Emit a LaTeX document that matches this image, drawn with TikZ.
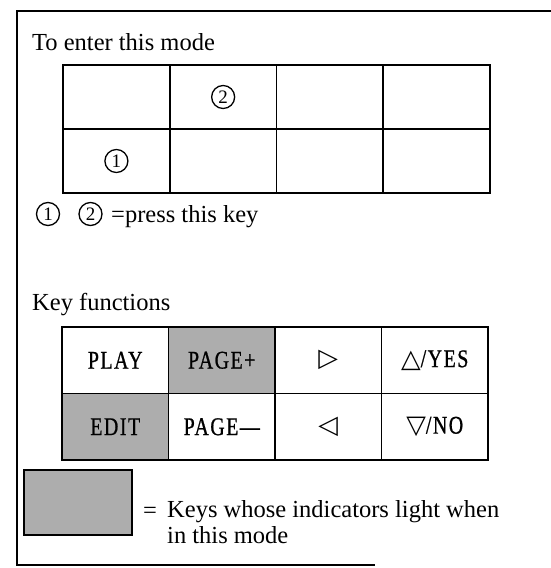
\documentclass[tikz,border=0pt]{standalone}
\usepackage{fontspec}
\setmainfont{Liberation Serif}
\newfontfamily\symfont{DejaVu Sans}
\newfontfamily\keyfont[FakeStretch=0.78,FakeBold=0.8,LetterSpace=6]{Liberation Serif}
\usetikzlibrary{calc,positioning}

\tikzset{
	modecell/.style={draw, line width=1.8pt, outer sep=0pt, inner sep=0pt, minimum width=106.75pt, minimum height=64pt},
	keycell/.style={draw, line width=1.8pt, outer sep=0pt, inner sep=0pt, minimum width=106.5pt, minimum height=66.5pt, font=\fontsize{25.5}{30}\selectfont\keyfont},
	lit/.style={fill=black!32},
	caption/.style={anchor=base west, inner sep=0pt, font=\fontsize{24.5}{26}\selectfont},
	circnum/.style={circle, draw, line width=1.3pt, inner sep=0pt, minimum size=23pt, font=\fontsize{19}{19}\selectfont},
}

\begin{document}
\begin{tikzpicture}[x=1pt,y=-1pt]
					\useasboundingbox (0,0) rectangle (551,568);
					\coordinate (origin) at (0, 0);
					% frame
					\draw [line width=1.8pt] ($(origin) + (551, 11)$) -- ($(origin) + (17, 11)$) -- ($(origin) + (17, 565)$) -- ($(origin) + (375, 565)$);

					% to enter this mode
					\node [caption] (entertitle) at ($(origin) + (32, 50)$) {To enter this mode};
					\foreach \r in {0,1}
						\foreach \c in {0,...,3}
							\node [modecell] (m\r\c) at ($(origin) + ({116.4 + 106.75*\c}, {97 + 64*\r})$) {};
					\node [circnum] (firstkey) at (m10) {1};
					\node [circnum] (secondkey) at (m01) {2};
					\node [circnum] (firsthint) at ($(origin) + (48, 214)$) {1};
					\node [circnum] (secondhint) at ($(origin) + (90.5, 214)$) {2};
					\node [caption] (presshint) at ($(origin) + (111, 222)$) {=press this key};

					% key functions
					\node [caption] (keytitle) at ($(origin) + (32, 310)$) {Key functions};
					\node [keycell] (play) at ($(origin) + (115.25, 360.25)$) {PLAY};
					\node [keycell, lit, right=0pt of play] (pageup) {PAGE+};
					\node [keycell, right=0pt of pageup] (fwd) {\symfont ▷};
					\node [keycell, right=0pt of fwd] (yes) {{\symfont △}/YES};
					\node [keycell, lit, below=0pt of play] (edit) {EDIT};
					\node [keycell, right=0pt of edit] (pagedown) {PAGE—};
					\node [keycell, right=0pt of pagedown] (back) {\symfont ◁};
					\node [keycell, right=0pt of back] (no) {{\symfont ▽}/NO};

					% legend
					\node [draw, lit, line width=1.8pt, minimum width=108pt, minimum height=65pt] (litkey) at ($(origin) + (78, 502.5)$) {};
					\node [caption] (legendeq) at ($(origin) + (143, 518)$) {=};
					\node [caption, align=left] (legendtext) at ($(origin) + (167, 543)$) {Keys whose indicators light when\\in this mode};

				\end{tikzpicture}
\end{document}
